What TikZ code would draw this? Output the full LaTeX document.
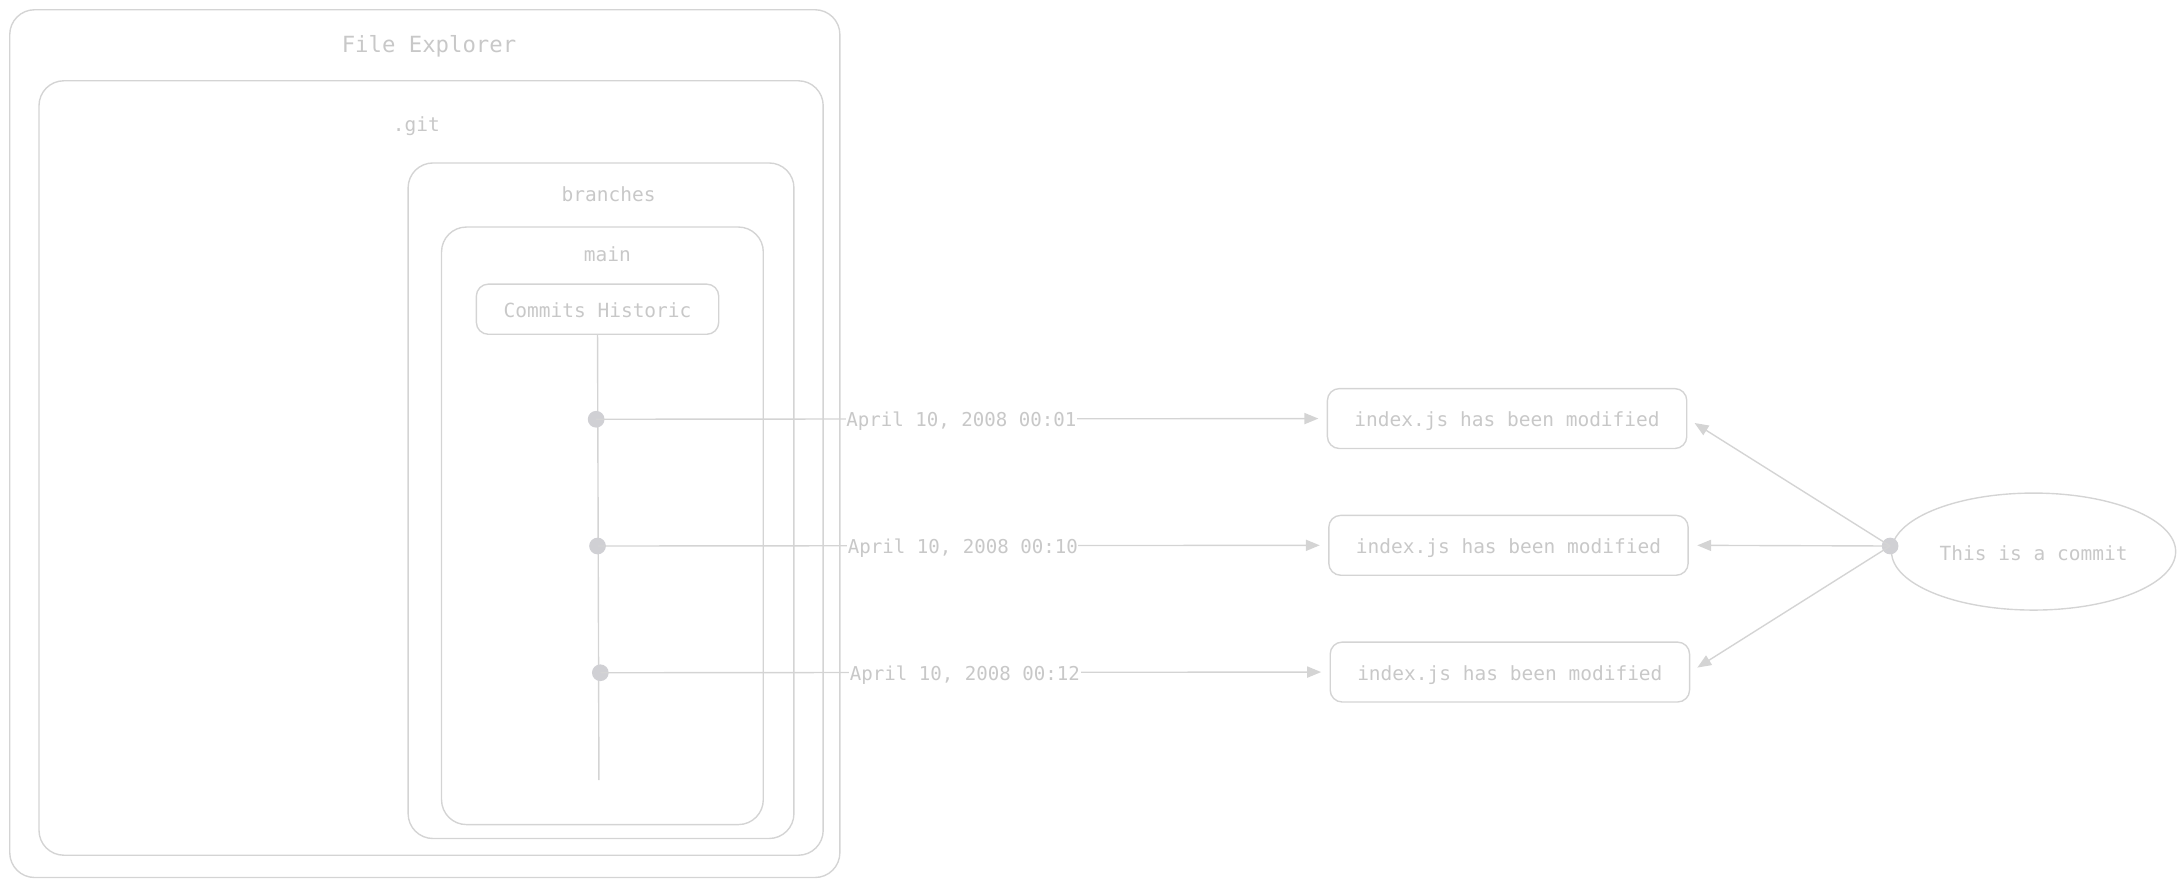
\documentclass[tikz,border=0pt]{standalone}
\usepackage{fontspec}
\setmonofont{DejaVu Sans Mono}
\usetikzlibrary{arrows.meta,shapes.geometric}
\definecolor{ln}{RGB}{212,212,212}
\definecolor{tx}{RGB}{200,200,200}
\definecolor{dotc}{RGB}{208,208,212}
\begin{document}
\begin{tikzpicture}[x=0.7pt,y=-0.7pt,
  box/.style={draw=ln,line width=0.7pt,rounded corners=#1,minimum width=0pt,inner sep=0pt},
  box/.default=12.5pt,
  lbl/.style={text=tx,font=\ttfamily\fontsize{9.8pt}{11pt}\selectfont,inner sep=0.5pt,text height=1.0em,text depth=0.2em},
  elbl/.style={lbl,font=\ttfamily\fontsize{9.6pt}{11pt}\selectfont,fill=white,inner sep=0.3pt},
  dotn/.style={circle,fill=dotc,draw=none,minimum size=8.4pt,inner sep=0pt},
  conn/.style={draw=ln,line width=0.7pt},
  arr/.style={conn,-{Triangle[length=7pt,width=5.6pt]},shorten >=4.2pt}
]
\path[use as bounding box] (0,0) rectangle (1568,637);
% containers
\node[box,minimum width=417.2pt,minimum height=436.1pt] (outer) at (305,318.5) {};
\node[lbl,font=\ttfamily\fontsize{11.2pt}{13pt}\selectfont] (outert) at (308,32) {File Explorer};
\node[box,minimum width=394.1pt,minimum height=389.2pt] (git) at (309.5,336) {};
\node[lbl] (gitt) at (299,89) {.git};
\node[box,minimum width=193.9pt,minimum height=339.5pt] (br) at (431.5,359.5) {};
\node[lbl] (brt) at (437,139) {branches};
\node[box,minimum width=161.7pt,minimum height=300.3pt] (main) at (432.5,377.5) {};
\node[lbl] (maint) at (436,182) {main};
\node[box=6pt,minimum width=121.8pt,minimum height=25.2pt,lbl,draw=ln] (hist) at (429,222) {Commits Historic};
% timeline
\coordinate (tend) at (430,560);
\draw[conn] (hist.south) -- (tend);
\node[dotn] (d1) at (428,301) {};
\node[dotn] (d2) at (429,392) {};
\node[dotn] (d3) at (431,483) {};
% modification boxes
\node[box=6pt,minimum width=180.6pt,minimum height=30.1pt,lbl,draw=ln] (m1) at (1082,300.5) {index.js has been modified};
\node[box=6pt,minimum width=180.6pt,minimum height=30.1pt,lbl,draw=ln] (m2) at (1083,391.5) {index.js has been modified};
\node[box=6pt,minimum width=180.6pt,minimum height=30.1pt,lbl,draw=ln] (m3) at (1084,482.5) {index.js has been modified};
% commit ellipse
\node[ellipse,draw=ln,line width=0.7pt,minimum width=142.8pt,minimum height=58.8pt,inner sep=0pt] (ell) at (1460,396) {};
\node[lbl] (ellt) at (1460,397) {This is a commit};
\node[dotn] (cd) at (1357,392) {};
% connectors
\draw[arr] (d1.center) -- node[elbl,midway] {April 10, 2008 00:01} (m1.west);
\draw[arr] (d2.center) -- node[elbl,midway] {April 10, 2008 00:10} (m2.west);
\draw[arr] (d3.center) -- node[elbl,midway] {April 10, 2008 00:12} (m3.west);
\draw[arr] (cd.center) -- (m1.east);
\draw[arr] (cd.center) -- (m2.east);
\draw[arr] (cd.center) -- (m3.east);
\end{tikzpicture}
\end{document}
